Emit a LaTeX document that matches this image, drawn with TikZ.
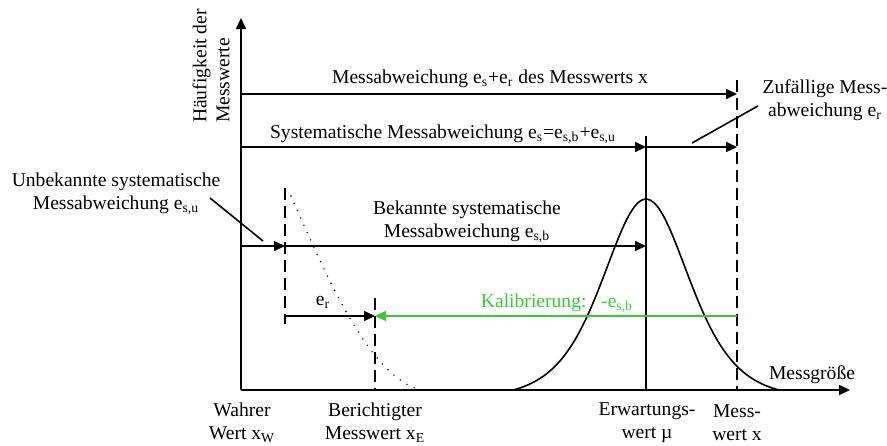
\documentclass[tikz,border=0pt]{standalone}
\usepackage{fontspec}
\setmainfont{Liberation Serif}
\definecolor{kalgreen}{RGB}{51,204,51}
\usetikzlibrary{arrows.meta,calc}
\newcommand{\txtsize}{\fontsize{9.8}{11.5}\selectfont}

\begin{document}
\begin{tikzpicture}[x=0.5pt,y=-0.5pt,line width=0.8pt,
    every node/.style={font=\txtsize,inner sep=1pt},
    pfeil/.style={-{Triangle[length=5.5pt,width=5pt]}},
    hilfslinie/.style={dash pattern=on 6pt off 3pt},
    punktlinie/.style={line cap=round,dash pattern=on 0pt off 4pt},
    zweizeilig/.style={align=center}]
  \useasboundingbox (0,0) rectangle (887,445);

  %% Achsen
  \coordinate (O) at (241,390);
  \coordinate (ytip) at (241,18);
  \coordinate (xtip) at (850,390);
  \draw[pfeil] (O) -- (ytip);
  \draw[pfeil] (O) -- (xtip);
  \node[rotate=90,align=left] (ylab) at (211,66) {Häufigkeit der\\Messwerte};
  \node[anchor=base] (xlab) at (812,379) {Messgröße};

  %% Verteilungen
  \draw[domain=513:779,samples=90,smooth]
    plot (\x,{390-199/(cosh((\x-646)/58)^2)+8});
  \draw[punktlinie] (291,196) .. controls (330,285) and (370,375) .. (420,390);

  %% senkrechte Linien
  \coordinate (xWtop) at (285,188);
  \coordinate (xW) at (285,324);
  \coordinate (xEtop) at (375,298);
  \coordinate (xE) at (375,390);
  \coordinate (mutop) at (646,136);
  \coordinate (mu) at (646,390);
  \coordinate (xMtop) at (737,80);
  \coordinate (xM) at (737,390);
  \draw[hilfslinie] (xWtop) -- (xW);
  \draw[hilfslinie] (xEtop) -- (xE);
  \draw (mutop) -- (mu);
  \draw[hilfslinie] (xMtop) -- (xM);

  %% Pfeile
  \coordinate (r1) at (241,94);
  \coordinate (r2) at (241,147);
  \coordinate (r3) at (241,246);
  \coordinate (r4) at (285,316);
  \draw[pfeil] (r1) -- (r1 -| xM);
  \draw[pfeil] (r2) -- (r2 -| mu);
  \draw[pfeil] (r2 -| mu) -- (r2 -| xM);
  \draw[pfeil] (r3) -- (r3 -| xW);
  \draw[pfeil] (r3 -| xW) -- (r3 -| mu);
  \draw[pfeil] (r4) -- (r4 -| xE);
  \draw[pfeil,kalgreen,line width=0.6pt] (r4 -| xM) -- (r4 -| xE);

  %% Beschriftungen
  \node[anchor=base] (gesamt) at (490,83)
    {Messabweichung e\textsubscript{s}+e\textsubscript{r} des Messwerts x};
  \node[anchor=base] (system) at (443,138)
    {Systematische Messabweichung e\textsubscript{s}=e\textsubscript{s,b}+e\textsubscript{s,u}};
  \node[zweizeilig] (bekannt) at (467,222)
    {Bekannte systematische\\Messabweichung e\textsubscript{s,b}};
  \node[zweizeilig] (unbek) at (116,194)
    {Unbekannte systematische\\Messabweichung e\textsubscript{s,u}};
  \node[zweizeilig] (zufall) at (825,100)
    {Zufällige Mess-\\abweichung e\textsubscript{r}};
  \node[anchor=base] (erlab) at (323,305) {e\textsubscript{r}};
  \node[anchor=base,kalgreen] (kallab) at (557,307)
    {Kalibrierung:\enspace\ -e\textsubscript{s,b}};

  %% Hinweislinien
  \coordinate (unbekziel) at (263,241);
  \coordinate (zufallziel) at (692,143);
  \draw ($(unbek.east)+(-13,4)$) -- (unbekziel);
  \draw ($(zufall.west)+(-2,6)$) -- (zufallziel);

  %% Werte an der Achse
  \node[zweizeilig] (wahr) at (242,423) {Wahrer\\Wert x\textsubscript{W}};
  \node[zweizeilig] (bericht) at (375,423) {Berichtigter\\Messwert x\textsubscript{E}};
  \node[zweizeilig] (erw) at (647,423) {Erwartungs-\\wert µ};
  \node[zweizeilig] (mess) at (737,423) {Mess-\\wert x};
\end{tikzpicture}
\end{document}
